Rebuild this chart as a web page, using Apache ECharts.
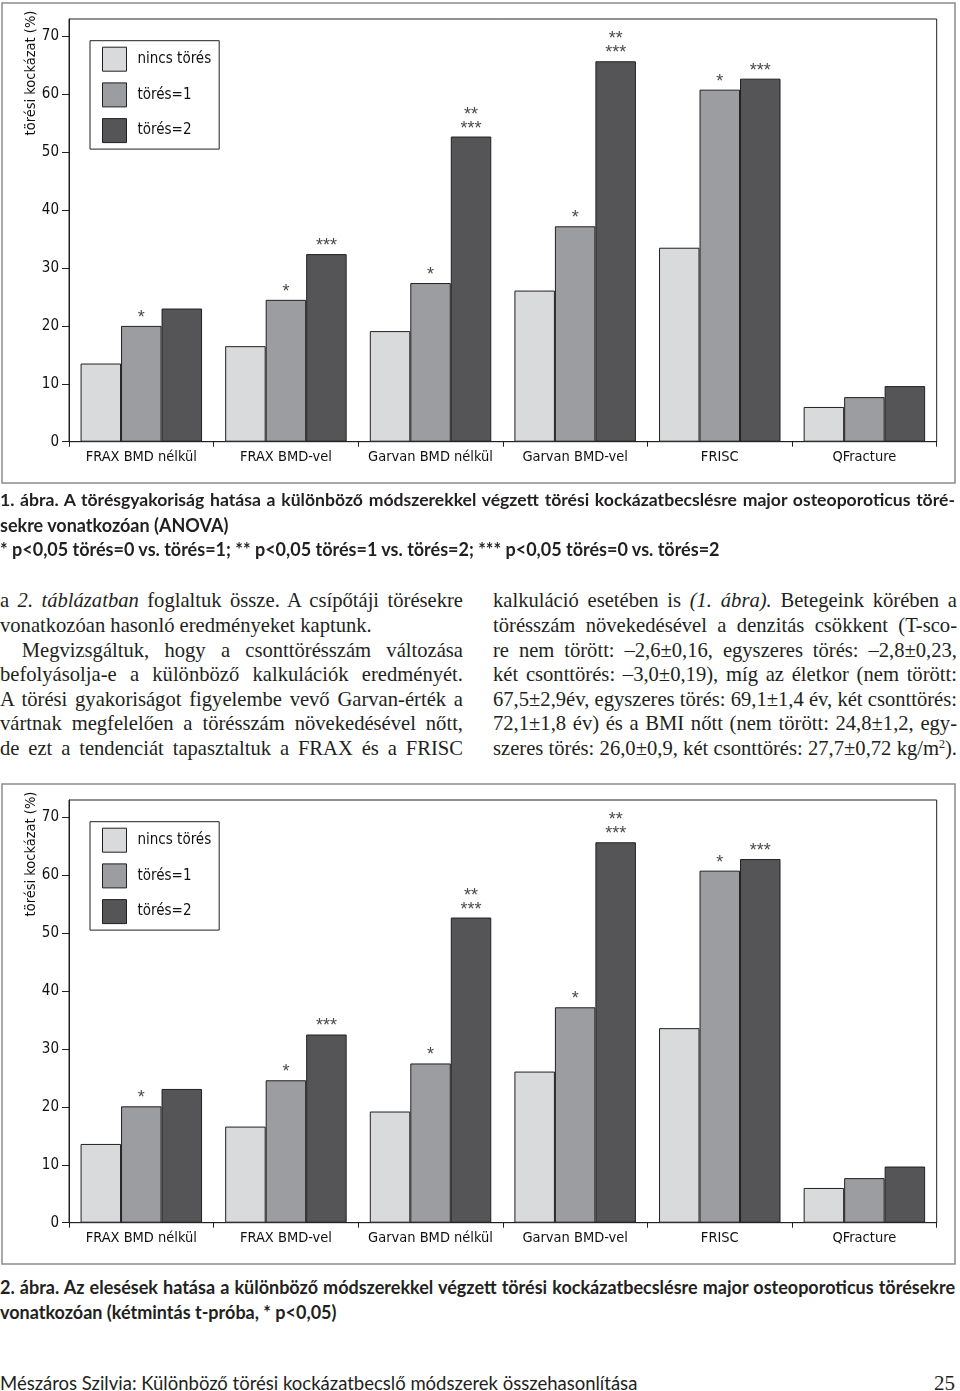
<!DOCTYPE html>
<html><head><meta charset="utf-8">
<script src="https://cdn.jsdelivr.net/npm/echarts@6/dist/echarts.min.js"></script>
<style>
html,body{margin:0;padding:0;background:#fff;}
body{width:960px;height:1391px;position:relative;overflow:hidden;}
.chart{position:absolute;left:0;width:960px;height:490px;}
.ln{position:absolute;white-space:nowrap;height:24px;line-height:24px;color:#231f20;}
.cap{font-family:Lato,'Open Sans',sans-serif;font-weight:700;font-size:18px;left:0;width:955px;}
.bt{font-family:'Liberation Serif','DejaVu Serif',serif;font-size:20.6px;}
.L{left:0;width:463px;}
.R{left:493px;width:464px;}
.j{text-align:justify;text-align-last:justify;}
.ft{font-family:Lato,'Open Sans',sans-serif;font-size:18.5px;left:0;}
sup{font-size:12px;line-height:0;vertical-align:7px;}
</style></head>
<body>
<div id="c1" class="chart" style="top:0px"></div>

<div class="ln cap j" style="top:488px;font-size:17.6px">1. ábra. A törésgyakoriság hatása a különböző módszerekkel végzett törési kockázatbecslésre major osteoporoticus töré-</div>
<div class="ln cap" style="top:512.5px">sekre vonatkozóan (ANOVA)</div>
<div class="ln cap" style="top:537px">* p&lt;0,05 törés=0 vs. törés=1; ** p&lt;0,05 törés=1 vs. törés=2; *** p&lt;0,05 törés=0 vs. törés=2</div>

<div class="ln bt L j" style="top:588px">a <i>2. táblázatban</i> foglaltuk össze. A csípőtáji törésekre</div>
<div class="ln bt L" style="top:613px">vonatkozóan hasonló eredményeket kaptunk.</div>
<div class="ln bt L j" style="top:637.5px;left:21.7px;width:441.3px">Megvizsgáltuk, hogy a csonttörésszám változása</div>
<div class="ln bt L j" style="top:662px">befolyásolja-e a különböző kalkulációk eredményét.</div>
<div class="ln bt L j" style="top:686.5px">A törési gyakoriságot figyelembe vevő Garvan-érték a</div>
<div class="ln bt L j" style="top:711px">vártnak megfelelően a törésszám növekedésével nőtt,</div>
<div class="ln bt L j" style="top:735.5px">de ezt a tendenciát tapasztaltuk a FRAX és a FRISC</div>

<div class="ln bt R j" style="top:588px">kalkuláció esetében is <i>(1. ábra).</i> Betegeink körében a</div>
<div class="ln bt R j" style="top:613px">törésszám növekedésével a denzitás csökkent (T-sco-</div>
<div class="ln bt R j" style="top:637.5px">re nem törött: –2,6±0,16, egyszeres törés: –2,8±0,23,</div>
<div class="ln bt R j" style="top:662px">két csonttörés: –3,0±0,19), míg az életkor (nem törött:</div>
<div class="ln bt R j" style="top:686.5px">67,5±2,9év, egyszeres törés: 69,1±1,4 év, két csonttörés:</div>
<div class="ln bt R j" style="top:711px">72,1±1,8 év) és a BMI nőtt (nem törött: 24,8±1,2, egy-</div>
<div class="ln bt R j" style="top:735.5px">szeres törés: 26,0±0,9, két csonttörés: 27,7±0,72 kg/m<sup>2</sup>).</div>

<div id="c2" class="chart" style="top:781px"></div>

<div class="ln cap j" style="top:1275px">2. ábra. Az elesések hatása a különböző módszerekkel végzett törési kockázatbecslésre major osteoporoticus törésekre</div>
<div class="ln cap" style="top:1299.5px">vonatkozóan (kétmintás t-próba, * p&lt;0,05)</div>

<div class="ln ft" style="top:1371px">Mészáros Szilvia: Különböző törési kockázatbecslő módszerek összehasonlítása</div>
<div class="ln bt" style="top:1371px;right:5px;font-size:21px">25</div>

<script>
// ---- data ----
const categories = ['FRAX BMD nélkül', 'FRAX BMD-vel', 'Garvan BMD nélkül', 'Garvan BMD-vel', 'FRISC', 'QFracture'];
const seriesNames = ['nincs törés', 'törés=1', 'törés=2'];
const yTicks = [0, 10, 20, 30, 40, 50, 60, 70];
const yMax = 73;
const yAxisTitle = 'törési kockázat (%)';

const fig1NoFracture = [13.5, 16.5, 19.1, 26.1, 33.5, 6.0];
const fig1Fracture1 = [20.0, 24.5, 27.4, 37.2, 60.8, 7.7];
const fig1Fracture2 = [23.0, 32.4, 52.7, 65.7, 62.7, 9.6];
const fig1Marks1 = ['*', '*', '*', '*', '*', ''];
const fig1Marks2 = ['', '***', '**\n***', '**\n***', '***', ''];

const fig2NoFracture = [13.6, 16.6, 19.2, 26.1, 33.6, 6.0];
const fig2Fracture1 = [20.1, 24.6, 27.5, 37.2, 60.8, 7.7];
const fig2Fracture2 = [23.1, 32.5, 52.7, 65.7, 62.8, 9.7];
const fig2Marks1 = ['*', '*', '*', '*', '*', ''];
const fig2Marks2 = ['', '***', '**\n***', '**\n***', '***', ''];

// ---- style ----
const F = "'Liberation Sans Narrow','DejaVu Sans Condensed','Roboto',sans-serif";
const INK = '#231f20';
const COLORS = ['#d9dadc', '#9b9da0', '#555558'];

function bar(name, data, color, marks) {
  const s = {
    type: 'bar', name: name, data: data,
    barGap: '0%', barCategoryGap: '16%',
    itemStyle: { color: color, borderColor: INK, borderWidth: 1 },
    emphasis: { disabled: true },
    animation: false
  };
  if (marks) {
    s.label = {
      show: true, position: 'top', distance: 1,
      formatter: p => marks[p.dataIndex],
      fontFamily: "'Liberation Sans',Arial,sans-serif", fontSize: 18, lineHeight: 14, color: '#4a4a4a'
    };
  }
  return s;
}

function build(a, b, c, m1, m2) {
  return {
    backgroundColor: '#fff',
    animation: false,
    grid: { left: 69, right: 23.3, top: 19, height: 422.7, show: true, borderColor: INK, borderWidth: 1, backgroundColor: 'transparent' },
    legend: {
      data: seriesNames, orient: 'vertical', left: 90, top: 40.7,
      padding: [6, 8, 6, 12], borderColor: INK, borderWidth: 1,
      itemWidth: 24, itemHeight: 24, itemGap: 10.7, icon: 'rect',
      itemStyle: { borderColor: INK, borderWidth: 1 },
      textStyle: { fontFamily: F, fontSize: 15, color: '#111', padding: [0, 0, 0, 6] },
      selectedMode: false
    },
    xAxis: {
      type: 'category', data: categories,
      axisLine: { lineStyle: { color: INK, width: 1 } },
      axisTick: { show: true, length: 5, lineStyle: { color: INK } },
      axisLabel: { interval: 0, fontFamily: F, fontSize: 14.5, color: '#111', margin: 8 },
      splitLine: { show: false }
    },
    yAxis: {
      type: 'value', min: 0, max: yMax, interval: 10,
      axisLine: { show: true, lineStyle: { color: INK, width: 1 } },
      axisTick: { show: true, length: 7, lineStyle: { color: INK }, customValues: yTicks },
      axisLabel: { fontFamily: F, fontSize: 15, color: '#111', margin: 10, customValues: yTicks,
        formatter: v => (yTicks.indexOf(v) >= 0 ? String(v) : '') },
      splitLine: { show: false }
    },
    graphic: [
      { type: 'rect', silent: true, z: -10, shape: { x: 2, y: 3, width: 953, height: 480 },
        style: { fill: null, stroke: '#8c8c8c', lineWidth: 1.5 } },
      { type: 'text', silent: true, x: 31, y: 73, rotation: Math.PI / 2,
        style: { text: yAxisTitle, font: "14.5px " + F, fill: '#111', align: 'center', verticalAlign: 'middle' } }
    ],
    series: [
      bar(seriesNames[0], a, COLORS[0], null),
      bar(seriesNames[1], b, COLORS[1], m1),
      bar(seriesNames[2], c, COLORS[2], m2)
    ]
  };
}

echarts.init(document.getElementById('c1'), null, { renderer: 'canvas' })
  .setOption(build(fig1NoFracture, fig1Fracture1, fig1Fracture2, fig1Marks1, fig1Marks2));
echarts.init(document.getElementById('c2'), null, { renderer: 'canvas' })
  .setOption(build(fig2NoFracture, fig2Fracture1, fig2Fracture2, fig2Marks1, fig2Marks2));
</script>
</body></html>
